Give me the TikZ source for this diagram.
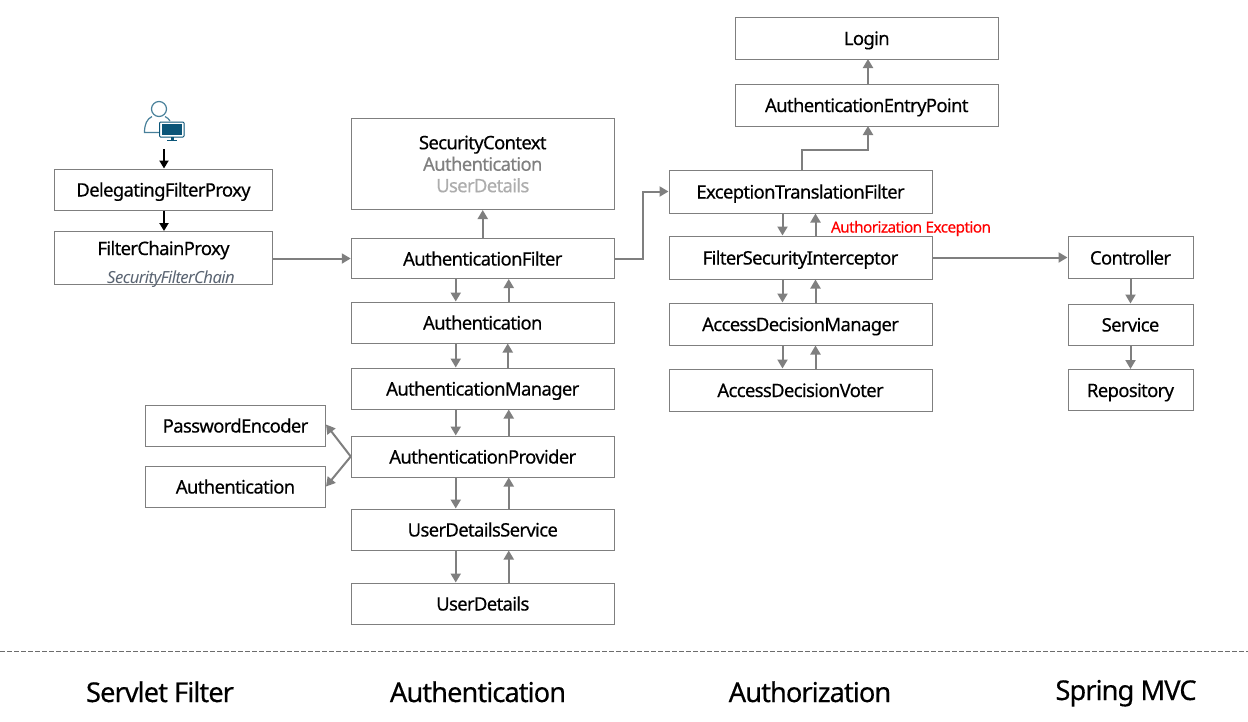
\documentclass[tikz,border=0pt]{standalone}
\usepackage{fontspec}
\setmainfont[LetterSpace=-3.6,FakeBold=0.35]{Noto Sans}
\newfontfamily\thinfont[LetterSpace=-3.6]{Noto Sans}
\usetikzlibrary{arrows.meta}
\definecolor{edge}{HTML}{7F7F7F}
\definecolor{iconblue}{HTML}{0B5578}
\definecolor{slate}{HTML}{5A6472}
\tikzset{
  box/.style={draw=edge,line width=1pt,fill=white,inner sep=0pt,text=black,font=\fontsize{18.5}{22}\selectfont,align=center},
  lbl/.style={text height=14pt,text depth=0pt},
  flow/.style={draw=edge,line width=2pt,-{Triangle[length=9pt,width=10pt]}},
  entry/.style={draw=black,line width=2pt,-{Triangle[length=8pt,width=9pt]}},
  band/.style={font=\fontsize{27.3}{32}\selectfont,text=black,inner sep=0pt,text height=18pt,text depth=0pt},
}
\begin{document}
\begin{tikzpicture}[x=1pt,y=-1pt]
\useasboundingbox (0,0) rectangle (1248,721);
% boxes
\node[box,lbl,minimum width=218pt,minimum height=41pt] (dfp) at (163.5,189.5) {DelegatingFilterProxy};
\node[box,minimum width=218pt,minimum height=53pt] (fcp) at (163.5,257.5) {};
\node[font=\fontsize{18.5}{22}\selectfont,inner sep=0pt,lbl] (fcpt) at (163.5,248) {FilterChainProxy};
\node[font=\thinfont\fontsize{16.7}{18}\itshape\selectfont,text=slate,inner sep=0pt,text height=12pt,text depth=0pt] (sfc) at (171,277) {SecurityFilterChain};
\node[box,minimum width=263pt,minimum height=91pt] (sc) at (482.75,164) {SecurityContext\\[-0.5pt]{\color{black!50}Authentication}\\[-0.5pt]{\color{black!32}UserDetails}};
\node[box,lbl,minimum width=263pt,minimum height=40pt] (af) at (482.75,258.5) {AuthenticationFilter};
\node[box,lbl,minimum width=263pt,minimum height=41pt] (auth) at (482.75,322.5) {Authentication};
\node[box,lbl,minimum width=263pt,minimum height=41pt] (am) at (482.75,388.5) {AuthenticationManager};
\node[box,lbl,minimum width=263pt,minimum height=41pt] (ap) at (482.75,456.5) {AuthenticationProvider};
\node[box,lbl,minimum width=263pt,minimum height=41pt] (uds) at (482.75,529.5) {UserDetailsService};
\node[box,lbl,minimum width=263pt,minimum height=41pt] (ud) at (482.75,603.5) {UserDetails};
\node[box,lbl,minimum width=180pt,minimum height=41pt] (pe) at (235.5,425.5) {PasswordEncoder};
\node[box,lbl,minimum width=180pt,minimum height=41pt] (auth2) at (235.5,486.5) {Authentication};
\node[box,lbl,minimum width=263pt,minimum height=42pt] (login) at (866.75,38) {Login};
\node[box,lbl,minimum width=263pt,minimum height=42pt] (aep) at (866.75,105) {AuthenticationEntryPoint};
\node[box,lbl,minimum width=263pt,minimum height=43pt] (etf) at (800.5,191.5) {ExceptionTranslationFilter};
\node[box,lbl,minimum width=263pt,minimum height=43pt] (fsi) at (800.5,257.5) {FilterSecurityInterceptor};
\node[box,lbl,minimum width=263pt,minimum height=42pt] (adm) at (800.5,324) {AccessDecisionManager};
\node[box,lbl,minimum width=263pt,minimum height=42pt] (adv) at (800.5,390) {AccessDecisionVoter};
\node[box,lbl,minimum width=125pt,minimum height=42pt] (ctrl) at (1130.5,257.5) {Controller};
\node[box,lbl,minimum width=125pt,minimum height=41pt] (svc) at (1130.5,324.5) {Service};
\node[box,lbl,minimum width=125pt,minimum height=41pt] (repo) at (1130.5,390) {Repository};
% icon
\draw[iconblue!75!white,line width=1.2pt] (159,132.5) -- (144.5,132.5) .. controls (144.5,124) and (147,119) .. (152,116.5);
\draw[iconblue!75!white,line width=1.2pt] (165,116.5) .. controls (167,117.5) and (169,119) .. (170,121);
\draw[iconblue!75!white,line width=1.2pt,fill=white] (159,109) circle (7.5);
\draw[iconblue,line width=1pt,fill=white,rounded corners=1pt] (159.5,122) rectangle (184,137);
\fill[iconblue] (161.5,124) rectangle (182,135);
\fill[iconblue] (170.5,137) rectangle (173.5,139.5);
\fill[iconblue] (167,139.5) rectangle (177,141);
\coordinate (user) at (164,149);
% connectors
\draw[entry] (user) -- (user |- dfp.north);
\draw[entry] (dfp.south) ++(0.5,0) -- (164,231);
\draw[flow] (fcp.east) ++(0,1) -- (af.west);
\draw[flow] (af.north) -- (sc.south);
\draw[flow] ([xshift=-27pt]af.south) -- ([xshift=-27pt]auth.north);
\draw[flow] ([xshift=26pt]auth.north) -- ([xshift=26pt]af.south);
\draw[flow] ([xshift=-27pt]auth.south) -- ([xshift=-27pt]am.north);
\draw[flow] ([xshift=25pt]am.north) -- ([xshift=25pt]auth.south);
\draw[flow] ([xshift=-27pt]am.south) -- ([xshift=-27pt]ap.north);
\draw[flow] ([xshift=26pt]ap.north) -- ([xshift=26pt]am.south);
\draw[flow] ([xshift=-27pt]ap.south) -- ([xshift=-27pt]uds.north);
\draw[flow] ([xshift=26pt]uds.north) -- ([xshift=26pt]ap.south);
\draw[flow] ([xshift=-27pt]uds.south) -- ([xshift=-27pt]ud.north);
\draw[flow] ([xshift=26pt]ud.north) -- ([xshift=26pt]uds.south);
\draw[flow] (ap.west) -- ([yshift=1pt]pe.east);
\draw[flow] (ap.west) -- (auth2.east);
\draw[flow] (af.east) -- (643,258.5) -- (643,191.5) -- (etf.west);
\draw[flow] (etf.north) ++(1.5,0) -- (802,150) -- (868,150) -- (868,126);
\draw[flow] (868,84) -- (868,59);
\draw[flow] ([xshift=-18pt]etf.south) -- ([xshift=-18pt]fsi.north);
\draw[flow] ([xshift=15pt]fsi.north) -- ([xshift=15pt]etf.south);
\draw[flow] ([xshift=-18pt]fsi.south) -- ([xshift=-18pt]adm.north);
\draw[flow] ([xshift=15pt]adm.north) -- ([xshift=15pt]fsi.south);
\draw[flow] ([xshift=-18pt]adm.south) -- ([xshift=-18pt]adv.north);
\draw[flow] ([xshift=15pt]adv.north) -- ([xshift=15pt]adm.south);
\draw[flow] (fsi.east) -- (fsi.east -| ctrl.west);
\draw[flow] (ctrl.south) -- (svc.north);
\draw[flow] (svc.south) -- (repo.north);
% labels
\node[font=\fontsize{15.3}{17}\selectfont,text=red,inner sep=0pt,text height=11pt,text depth=0pt] (ae) at (911,227) {Authorization Exception};
\draw[edge!85!black,line width=1pt,dash pattern=on 5pt off 2pt] (0,651) -- (1248,651);
\node[band] (l1) at (160,693) {Servlet Filter};
\node[band] (l2) at (478,693) {Authentication};
\node[band] (l3) at (810,693) {Authorization};
\node[band] (l4) at (1126,691) {Spring MVC};
\end{tikzpicture}
\end{document}
